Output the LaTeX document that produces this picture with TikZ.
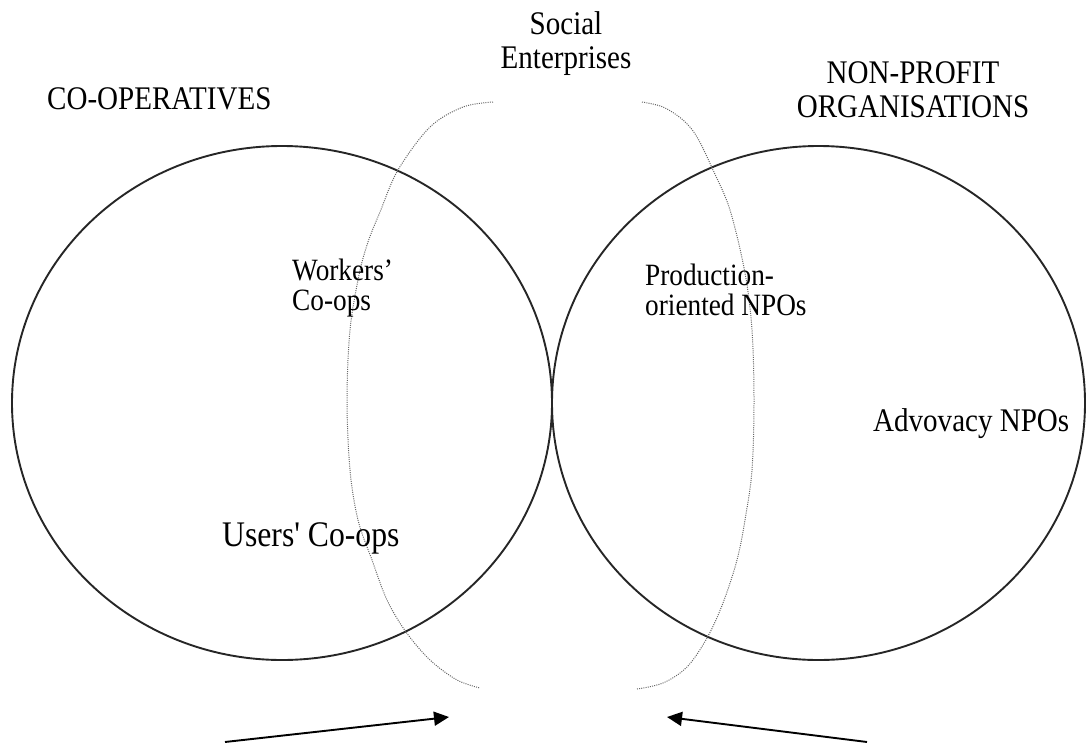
\documentclass[tikz,border=0pt]{standalone}
\usepackage{fontspec}
\setmainfont[FakeStretch=0.88]{Liberation Serif}
\newfontfamily\rawserif[FakeStretch=0.88]{Liberation Serif}
\usetikzlibrary{arrows.meta,shapes.geometric}
\tikzset{
  ring/.style={draw=black!85, line width=1.9pt, ellipse, inner sep=0pt},
  sedge/.style={draw=black!60, line width=1pt, dash pattern=on 1pt off 1.2pt},
  lbl/.style={inner sep=0pt, font=\fontsize{33}{34}\selectfont},
  pair/.style={inner sep=0pt, align=left, anchor=west, font=\fontsize{31}{30}\selectfont},
  pointer/.style={draw=black, line width=1.9pt, -{Triangle[length=15pt,width=14pt]}}
}
\begin{document}
\begin{tikzpicture}[x=1pt, y=-1pt]
\useasboundingbox (0,0) rectangle (1087,742);
% circles
\node[ring, minimum width=540pt, minimum height=514pt] (coop) at (282,403) {};
\node[ring, minimum width=533pt, minimum height=514pt] (npo) at (818.5,403) {};
% social enterprise arcs
\draw[sedge] plot[smooth, tension=0.55] coordinates {(493,102) (463,107) (430,127) (398,170) (380,212) (368,242) (359,275) (350,330) (347,400) (350,470) (358,520) (372,560) (387,600) (406,632) (430,660) (457,680) (480,688)};
\draw[sedge] plot[smooth, tension=0.55] coordinates {(642,102) (663,107) (683,120) (697,137) (713,170) (730,210) (745,273) (752,330) (754,400) (752,470) (745,520) (737,560) (723,603) (707,638) (687,667) (663,683) (637,689)};
% labels
\node[lbl, align=center] (se) at (566,44) {Social\\Enterprises};
\node[lbl, anchor=west] (cooplbl) at (47,99) {CO-OPERATIVES};
\node[lbl, align=center] (npolbl) at (913,90) {NON-PROFIT\\ORGANISATIONS};
\node[pair] (workers) at (292,288) {Workers’\\Co-ops};
\node[pair] (prod) at (645,290) {Production-\\oriented NPOs};
\node[lbl, anchor=west] (adv) at (873,424) {Advovacy NPOs};
\node[lbl, anchor=west, font=\rawserif\fontsize{36}{38}\selectfont] (users) at (222,538) {Users' Co-ops};
% arrows
\coordinate (la) at (225,742);
\coordinate (lt) at (449,717);
\coordinate (ra) at (867,742);
\coordinate (rt) at (667,717);
\draw[pointer] (la) -- (lt);
\draw[pointer] (ra) -- (rt);
\end{tikzpicture}
\end{document}
